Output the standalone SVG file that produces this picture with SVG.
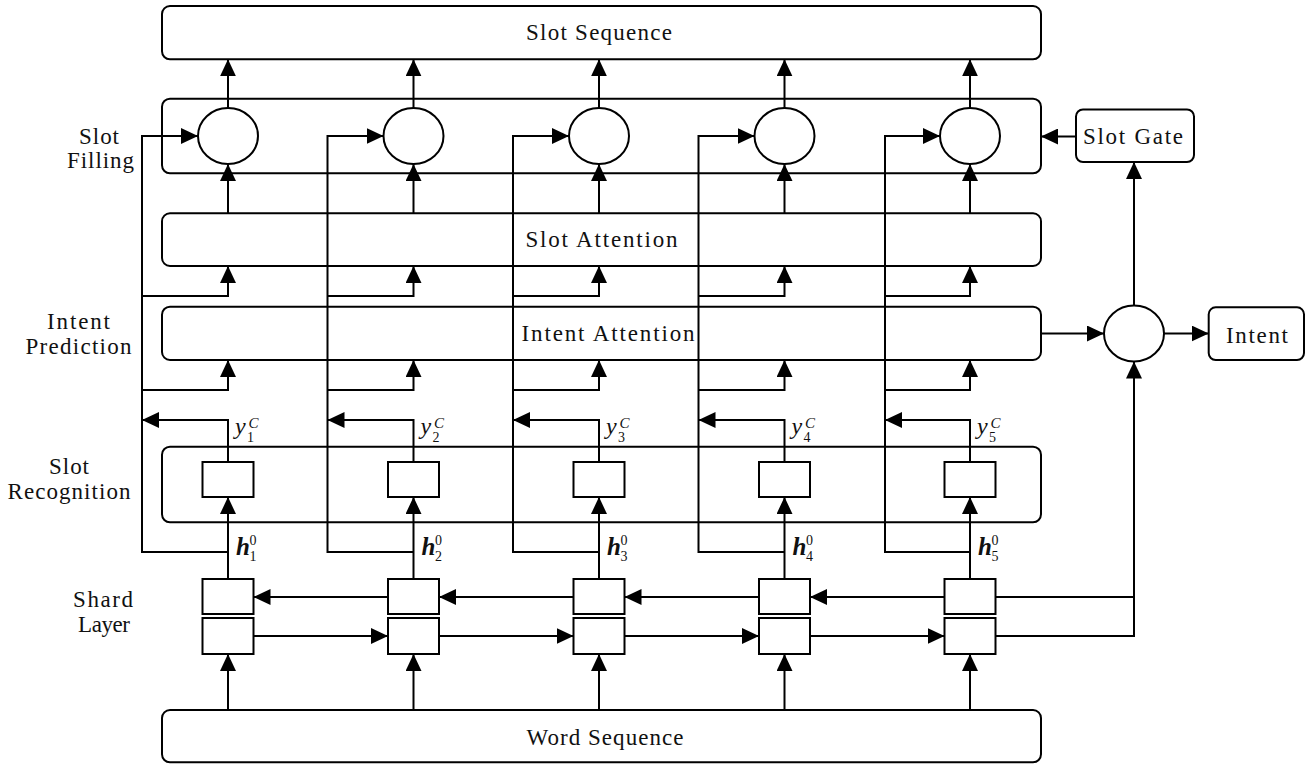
<svg xmlns="http://www.w3.org/2000/svg" width="1311" height="764" viewBox="0 0 1311 764">
  <style>
    .box { fill: none; stroke: #000; stroke-width: 2; }
    .cell { fill: #fff; stroke: #000; stroke-width: 2; }
    .op { fill: #fff; stroke: #000; stroke-width: 2; }
    .wire { fill: none; stroke: #000; stroke-width: 2; }
    .arr { marker-end: url(#head); }
    .lbl { font-family: "Liberation Serif", "Times New Roman", serif; font-size: 23px; fill: #111; }
    .mid { text-anchor: middle; }
    .mi { font-family: "Liberation Serif", "Times New Roman", serif; font-style: italic; font-size: 24px; fill: #111; }
    .mb { font-family: "Liberation Serif", "Times New Roman", serif; font-style: italic; font-weight: bold; font-size: 25px; fill: #111; }
    .sc { font-family: "Liberation Serif", "Times New Roman", serif; font-size: 14px; fill: #111; }
    .sci { font-family: "Liberation Serif", "Times New Roman", serif; font-style: italic; font-size: 15px; fill: #111; }
  </style>
  <defs>
    <marker id="head" markerUnits="userSpaceOnUse" markerWidth="17" markerHeight="16" viewBox="0 0 17 16" refX="17" refY="8" orient="auto">
      <path d="M0,0 L17,8 L0,16 Z" fill="#000"/>
    </marker>
  </defs>
  <rect width="1311" height="764" fill="#fff"/>

  <!-- layer captions -->
  <g id="captions" class="lbl mid">
    <text x="99" y="143.5" textLength="40" lengthAdjust="spacing">Slot</text>
    <text x="100.5" y="167.5" textLength="67" lengthAdjust="spacing">Filling</text>
    <text x="78.5" y="328.5" textLength="63" lengthAdjust="spacing">Intent</text>
    <text x="78.5" y="353.5" textLength="106" lengthAdjust="spacing">Prediction</text>
    <text x="69" y="473.5" textLength="40" lengthAdjust="spacing">Slot</text>
    <text x="69" y="498.5" textLength="123" lengthAdjust="spacing">Recognition</text>
    <text x="103" y="606.5" textLength="60" lengthAdjust="spacing">Shard</text>
    <text x="104" y="631.5" textLength="52" lengthAdjust="spacing">Layer</text>
  </g>

  <!-- wide layer boxes -->
  <g id="slot-sequence">
    <rect class="box" x="162" y="6" width="879" height="53.3" rx="8"/>
    <text class="lbl mid" x="599" y="39.5" textLength="146" lengthAdjust="spacing">Slot Sequence</text>
  </g>
  <g id="slot-filling">
    <rect class="box" x="162" y="98.7" width="879" height="74.6" rx="8"/>
  </g>
  <g id="slot-attention">
    <rect class="box" x="162" y="213.3" width="879" height="52.7" rx="8"/>
    <text class="lbl mid" x="601.5" y="247" textLength="152" lengthAdjust="spacing">Slot Attention</text>
  </g>
  <g id="intent-attention">
    <rect class="box" x="162" y="306.7" width="879" height="53.3" rx="8"/>
    <text class="lbl mid" x="608" y="340.5" textLength="173" lengthAdjust="spacing">Intent Attention</text>
  </g>
  <g id="slot-recognition">
    <rect class="box" x="162" y="446.7" width="879" height="75.6" rx="8"/>
  </g>
  <g id="word-sequence">
    <rect class="box" x="162" y="710" width="879" height="52.3" rx="8"/>
    <text class="lbl mid" x="605" y="745" textLength="157" lengthAdjust="spacing">Word Sequence</text>
  </g>

  <!-- connectors -->
  <g id="connectors" class="wire">
    <!-- column 1 (c=228) -->
    <path class="arr" d="M228 710 V654"/>
    <path class="arr" d="M228 579 V497"/>
    <path class="arr" d="M228 552 H142 V136 H198"/>
    <path class="arr" d="M142 296 H228 V266"/>
    <path class="arr" d="M142 390 H228 V360"/>
    <path class="arr" d="M228 462 V420 H142"/>
    <path class="arr" d="M228 213.3 V164"/>
    <path class="arr" d="M228 108 V59.3"/>
    <!-- column 2 (c=413.5) -->
    <path class="arr" d="M413.5 710 V654"/>
    <path class="arr" d="M413.5 579 V497"/>
    <path class="arr" d="M413.5 552 H327.5 V136 H383.5"/>
    <path class="arr" d="M327.5 296 H413.5 V266"/>
    <path class="arr" d="M327.5 390 H413.5 V360"/>
    <path class="arr" d="M413.5 462 V420 H327.5"/>
    <path class="arr" d="M413.5 213.3 V164"/>
    <path class="arr" d="M413.5 108 V59.3"/>
    <!-- column 3 (c=599) -->
    <path class="arr" d="M599 710 V654"/>
    <path class="arr" d="M599 579 V497"/>
    <path class="arr" d="M599 552 H513 V136 H569"/>
    <path class="arr" d="M513 296 H599 V266"/>
    <path class="arr" d="M513 390 H599 V360"/>
    <path class="arr" d="M599 462 V420 H513"/>
    <path class="arr" d="M599 213.3 V164"/>
    <path class="arr" d="M599 108 V59.3"/>
    <!-- column 4 (c=784.5) -->
    <path class="arr" d="M784.5 710 V654"/>
    <path class="arr" d="M784.5 579 V497"/>
    <path class="arr" d="M784.5 552 H698.5 V136 H754.5"/>
    <path class="arr" d="M698.5 296 H784.5 V266"/>
    <path class="arr" d="M698.5 390 H784.5 V360"/>
    <path class="arr" d="M784.5 462 V420 H698.5"/>
    <path class="arr" d="M784.5 213.3 V164"/>
    <path class="arr" d="M784.5 108 V59.3"/>
    <!-- column 5 (c=970) -->
    <path class="arr" d="M970 710 V654"/>
    <path class="arr" d="M970 579 V497"/>
    <path class="arr" d="M970 552 H885 V136 H940"/>
    <path class="arr" d="M885 296 H970 V266"/>
    <path class="arr" d="M885 390 H970 V360"/>
    <path class="arr" d="M970 462 V420 H885"/>
    <path class="arr" d="M970 213.3 V164"/>
    <path class="arr" d="M970 108 V59.3"/>
    <!-- shared bidirectional layer -->
    <path class="arr" d="M388 597 H253.5"/>
    <path class="arr" d="M573.5 597 H439"/>
    <path class="arr" d="M759 597 H624.5"/>
    <path class="arr" d="M944.5 597 H810"/>
    <path class="arr" d="M253.5 636 H388"/>
    <path class="arr" d="M439 636 H573.5"/>
    <path class="arr" d="M624.5 636 H759"/>
    <path class="arr" d="M810 636 H944.5"/>
    <path d="M995.5 597 H1134"/>
    <path class="arr" d="M995.5 636 H1134 V361.5"/>
    <!-- intent / gate path -->
    <path class="arr" d="M1041 333.5 H1104"/>
    <path class="arr" d="M1164 333.5 H1208.7"/>
    <path class="arr" d="M1134 305.5 V162"/>
    <path class="arr" d="M1076 136.5 H1041"/>
  </g>

  <!-- slot filling fusion nodes -->
  <g id="fuse-1"><ellipse class="op" cx="228" cy="136" rx="30" ry="28"/></g>
  <g id="fuse-2"><ellipse class="op" cx="413.5" cy="136" rx="30" ry="28"/></g>
  <g id="fuse-3"><ellipse class="op" cx="599" cy="136" rx="30" ry="28"/></g>
  <g id="fuse-4"><ellipse class="op" cx="784.5" cy="136" rx="30" ry="28"/></g>
  <g id="fuse-5"><ellipse class="op" cx="970" cy="136" rx="30" ry="28"/></g>

  <!-- slot recognition cells -->
  <g id="rec-1"><rect class="cell" x="202.5" y="462" width="51" height="35"/></g>
  <g id="rec-2"><rect class="cell" x="388" y="462" width="51" height="35"/></g>
  <g id="rec-3"><rect class="cell" x="573.5" y="462" width="51" height="35"/></g>
  <g id="rec-4"><rect class="cell" x="759" y="462" width="51" height="35"/></g>
  <g id="rec-5"><rect class="cell" x="944.5" y="462" width="51" height="35"/></g>

  <!-- shared encoder cells (backward on top, forward below) -->
  <g id="enc-1"><rect class="cell" x="202.5" y="579" width="51" height="35"/><rect class="cell" x="202.5" y="618" width="51" height="36"/></g>
  <g id="enc-2"><rect class="cell" x="388" y="579" width="51" height="35"/><rect class="cell" x="388" y="618" width="51" height="36"/></g>
  <g id="enc-3"><rect class="cell" x="573.5" y="579" width="51" height="35"/><rect class="cell" x="573.5" y="618" width="51" height="36"/></g>
  <g id="enc-4"><rect class="cell" x="759" y="579" width="51" height="35"/><rect class="cell" x="759" y="618" width="51" height="36"/></g>
  <g id="enc-5"><rect class="cell" x="944.5" y="579" width="51" height="35"/><rect class="cell" x="944.5" y="618" width="51" height="36"/></g>

  <!-- intent fusion and outputs -->
  <g id="intent-fuse"><ellipse class="op" cx="1134" cy="333.5" rx="30" ry="28"/></g>
  <g id="slot-gate">
    <rect class="box" x="1076" y="109.5" width="118" height="52.5" rx="7"/>
    <text class="lbl mid" x="1133" y="143.5" textLength="100" lengthAdjust="spacing">Slot Gate</text>
  </g>
  <g id="intent">
    <rect class="box" x="1208.7" y="307.3" width="95.3" height="52.7" rx="7"/>
    <text class="lbl mid" x="1257" y="342.5" textLength="62" lengthAdjust="spacing">Intent</text>
  </g>

  <!-- per-step labels -->
  <g id="labels-y">
    <text class="mi" x="235" y="434">y</text><text class="sci" x="248.5" y="428">C</text><text class="sc" x="247" y="442">1</text>
    <text class="mi" x="420.5" y="434">y</text><text class="sci" x="434" y="428">C</text><text class="sc" x="432.5" y="442">2</text>
    <text class="mi" x="606" y="434">y</text><text class="sci" x="619.5" y="428">C</text><text class="sc" x="618" y="442">3</text>
    <text class="mi" x="791.5" y="434">y</text><text class="sci" x="805" y="428">C</text><text class="sc" x="803.5" y="442">4</text>
    <text class="mi" x="977" y="434">y</text><text class="sci" x="990.5" y="428">C</text><text class="sc" x="989" y="442">5</text>
  </g>
  <g id="labels-h">
    <text class="mb" x="236" y="555">h</text><text class="sc" x="249.5" y="545">0</text><text class="sc" x="249.5" y="561">1</text>
    <text class="mb" x="421.5" y="555">h</text><text class="sc" x="435" y="545">0</text><text class="sc" x="435" y="561">2</text>
    <text class="mb" x="607" y="555">h</text><text class="sc" x="620.5" y="545">0</text><text class="sc" x="620.5" y="561">3</text>
    <text class="mb" x="792.5" y="555">h</text><text class="sc" x="806" y="545">0</text><text class="sc" x="806" y="561">4</text>
    <text class="mb" x="978" y="555">h</text><text class="sc" x="991.5" y="545">0</text><text class="sc" x="991.5" y="561">5</text>
  </g>
</svg>
